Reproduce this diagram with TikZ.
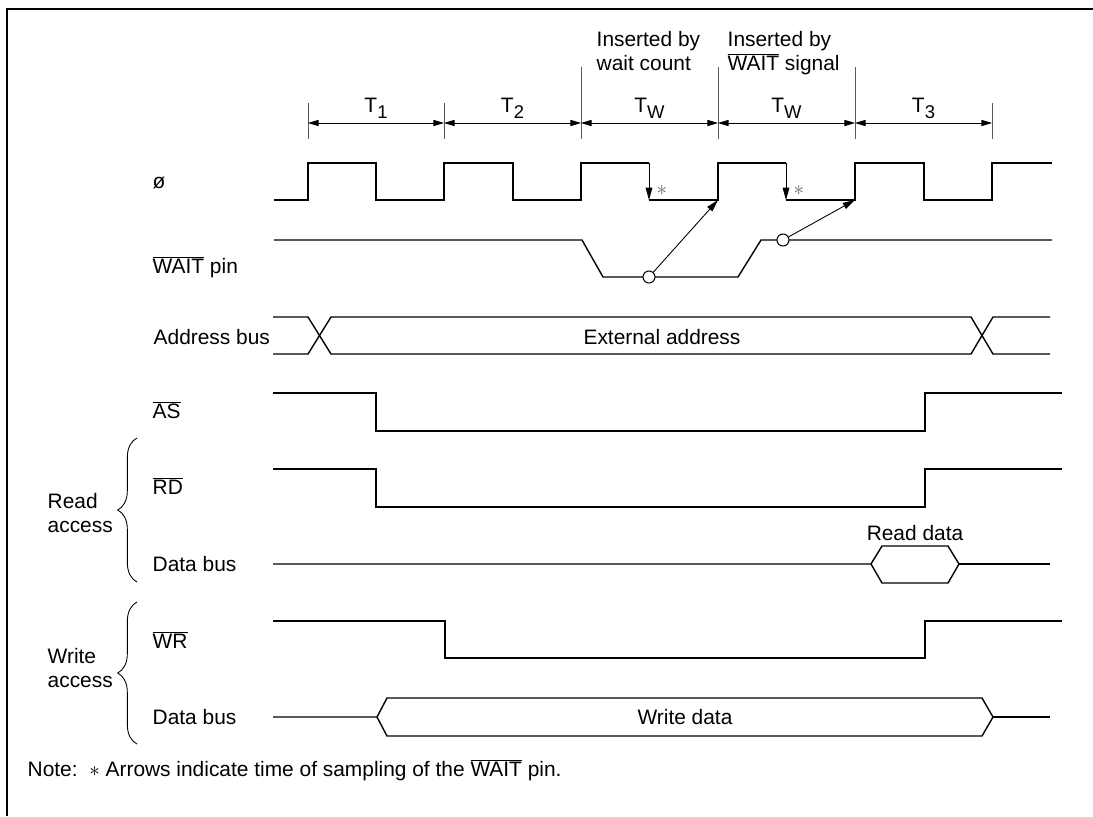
\documentclass[tikz,border=0pt]{standalone}
\usepackage{fontspec}
\setmainfont{Liberation Sans}
\usetikzlibrary{arrows.meta,decorations.pathreplacing,positioning,calc}
\tikzset{every picture/.style={line width=0.8pt}}
\tikzset{
  sig/.style={line width=0.8pt, line join=miter},
  lbl/.style={anchor=west, inner sep=0pt},
  tick/.style={line width=0.5pt, black!65},
  dim/.style={line width=0.5pt, {Triangle[length=6pt,width=3.5pt]}-{Triangle[length=6pt,width=3.5pt]}},
  samp/.style={line width=0.5pt, -{Triangle[length=7pt,width=3.8pt]}},
  dot/.style={circle, draw, fill=white, line width=0.6pt, inner sep=0pt, minimum size=0.24cm},
  brc/.style={decorate, decoration={brace, amplitude=11pt}, line width=0.5pt},
}
\newcommand{\ovl}[1]{$\overline{\mbox{#1}}$}
\newcommand{\Tsub}[1]{T\raisebox{-0.55ex}{\fontsize{10.5}{10.5}\selectfont #1}}

\begin{document}
\begin{tikzpicture}[x=0.02cm, y=-0.02cm, font=\fontsize{11.9}{13.6}\selectfont]
    % 边框
    \useasboundingbox (0,0) rectangle (1093,816);
    \draw[line width=0.6pt] (7,816) -- (7,9) -- (1093,9);

    % 周期刻度与尺寸箭头
    \foreach \x/\top [count=\i from 0] in {308/103, 444/103, 581/67, 718/67, 855/67, 992/103}{
        \coordinate (p\i) at (\x,123);
        \draw[tick] (\x,\top) -- (\x,139);
    }
    \foreach \a/\b/\t in {0/1/1, 1/2/2, 2/3/W, 3/4/W, 4/5/3}{
        \draw[dim] (p\a) -- (p\b);
        \node[inner sep=0pt] (tl\a) at ($(p\a)!0.5!(p\b)+(0,-15)$) {\Tsub{\t}};
    }

    % 插入说明
    \node[anchor=north west, align=left, inner sep=0pt] (ins1) at (596,31) {Inserted by\\wait count};
    \node[anchor=north west, align=left, inner sep=0pt] (ins2) at (727,31) {Inserted by\\\ovl{WAIT} signal};

    % 时钟 ø
    \draw[sig] (274,200) -- (308,200) -- (308,163) -- (376,163) -- (376,200) -- (444,200) -- (444,163)
        -- (513,163) -- (513,200) -- (581,200) -- (581,163) -- (649,163);
    \draw[sig] (649,200) -- (718,200) -- (718,163) -- (786,163);
    \draw[sig] (786,200) -- (855,200) -- (855,163) -- (924,163) -- (924,200) -- (992,200) -- (992,163) -- (1052,163);
    \coordinate (e1) at (718,200);
    \coordinate (e2) at (855,200);
    \draw[samp] (649,163) -- (649,200);
    \draw[samp] (786,163) -- (786,200);
    \node[black!60, inner sep=0pt] (ast1) at (662,191) {\fontsize{13}{13}\selectfont $*$};
    \node[black!60, inner sep=0pt] (ast2) at (799,191) {\fontsize{13}{13}\selectfont $*$};

    % WAIT 引脚
    \draw[sig] (274,240) -- (582,240) -- (603,277) -- (738,277) -- (761,240) -- (1052,240);
    \node[dot] (s1) at (649,277) {};
    \node[dot] (s2) at (783,240) {};
    \draw[samp] (s1) -- (e1);
    \draw[samp] (s2) -- (e2);

    % 地址总线
    \draw[sig] (273,317) -- (308,317) -- (331,354) -- (971,354) -- (993,317) -- (1050,317);
    \draw[sig] (273,354) -- (308,354) -- (331,317) -- (971,317) -- (993,354) -- (1050,354);
    \node[inner sep=0pt] (ea) at (662,337) {External address};

    % AS, RD
    \draw[sig] (273,393) -- (376,393) -- (376,431) -- (925,431) -- (925,393) -- (1062,393);
    \draw[sig] (273,469) -- (376,469) -- (376,507) -- (925,507) -- (925,469) -- (1062,469);

    % 读数据总线
    \draw[sig] (273,564) -- (871,564) -- (882,546) -- (948,546) -- (959,564) -- (948,583) -- (882,583) -- (871,564);
    \draw[sig] (959,564) -- (1050,564);
    \node[inner sep=0pt] (rd) at (915,533) {Read data};

    % WR
    \draw[sig] (273,621) -- (445,621) -- (445,658) -- (925,658) -- (925,621) -- (1062,621);

    % 写数据总线
    \draw[sig] (273,717) -- (377,717) -- (387,698) -- (982,698) -- (993,717) -- (982,736) -- (387,736) -- (377,717);
    \draw[sig] (993,717) -- (1050,717);
    \node[inner sep=0pt] (wd) at (685,717) {Write data};

    % 信号名称
    \node[lbl] (nclk) at (152,183) {ø};
    \node[lbl] (nwait) at (152,267) {\ovl{WAIT} pin};
    \node[lbl] (naddr) at (153,337) {Address bus};
    \node[lbl] (nas) at (152,410) {\ovl{AS}};
    \node[lbl] (nrd) at (152,486) {\ovl{RD}};
    \node[lbl] (nrdb) at (152,564) {Data bus};
    \node[lbl] (nwr) at (152,640) {\ovl{WR}};
    \node[lbl] (nwrb) at (152,717) {Data bus};

    % 读/写访问括号
    \draw[brc] (137,582) -- (137,438);
    \draw[brc] (137,744) -- (137,602);
    \node[lbl, align=left] (racc) at (47,513) {Read\\access};
    \node[lbl, align=left] (wacc) at (47,668) {Write\\access};

    % 注释
    \node[lbl] (note) at (27,770) {Note:\ \ {\fontsize{13}{13}\selectfont $*$} Arrows indicate time of sampling of the \ovl{WAIT} pin.};
\end{tikzpicture}
\end{document}
